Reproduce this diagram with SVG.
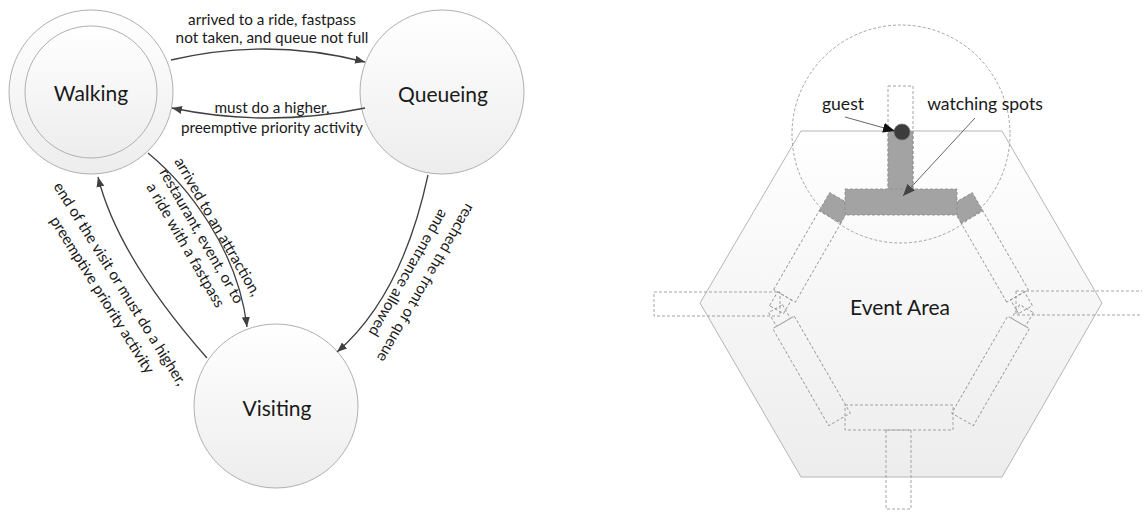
<svg xmlns="http://www.w3.org/2000/svg" width="1142" height="512" viewBox="0 0 1142 512">
<defs>
<linearGradient id="gNode" x1="0" y1="0" x2="0" y2="1">
<stop offset="0" stop-color="#ffffff"/><stop offset="1" stop-color="#ededed"/>
</linearGradient>
<linearGradient id="gHex" x1="0" y1="0" x2="0" y2="1">
<stop offset="0" stop-color="#ffffff"/><stop offset="1" stop-color="#ededed"/>
</linearGradient>
<marker id="arr" markerUnits="userSpaceOnUse" markerWidth="11" markerHeight="9" refX="10" refY="4" orient="auto">
<path d="M0,0 L10,4 L0,8 z" fill="#404040"/>
</marker>
<marker id="arrB" markerUnits="userSpaceOnUse" markerWidth="13" markerHeight="11" refX="12" refY="5" orient="auto">
<path d="M0,0 L12,5 L0,10 z" fill="#111"/>
</marker>
<marker id="arrG" markerUnits="userSpaceOnUse" markerWidth="13" markerHeight="11" refX="12" refY="5" orient="auto">
<path d="M0,0 L12,5 L0,10 z" fill="#444"/>
</marker>
</defs>
<style>
.node{fill:url(#gNode);stroke:#b0b0b0;stroke-width:1}
.ntxt{font-family:Lato,"Liberation Sans",sans-serif;font-size:21px;fill:#1a1a1a;text-anchor:middle;dominant-baseline:central}
.edge{fill:none;stroke:#404040;stroke-width:1.3;marker-end:url(#arr)}
.lbl{font-family:Lato,"Liberation Sans",sans-serif;font-size:15.3px;fill:#1a1a1a;text-anchor:middle}
.dash{fill:none;stroke:#9a9a9a;stroke-width:0.9;stroke-dasharray:3 2}
.spot{fill:#a3a3a3;stroke:#8a8a8a;stroke-width:0.8;stroke-dasharray:3 2}
.lead{fill:none;stroke:#555;stroke-width:0.9}
.ann{font-family:Lato,"Liberation Sans",sans-serif;font-size:17.6px;fill:#1a1a1a;text-anchor:middle}
</style>

<g id="node-walking">
<circle class="node" cx="91" cy="92" r="82"/>
<circle class="node" cx="91" cy="92" r="66"/>
<text class="ntxt" x="91" y="92">Walking</text>
</g>
<g id="node-queueing">
<circle class="node" cx="442" cy="92" r="82"/>
<text class="ntxt" x="443" y="93">Queueing</text>
</g>
<g id="node-visiting">
<circle class="node" cx="276" cy="406" r="82"/>
<text class="ntxt" x="277" y="407">Visiting</text>
</g>

<g id="connectors">
<path class="edge" d="M171,60 Q268,37 365,62"/>
<path class="edge" d="M365,108 Q268,128 172,108"/>
<path class="edge" d="M148,153 C188,186 238,250 247,327"/>
<path class="edge" d="M207,358 Q118,257 98,177"/>
<path class="edge" d="M428,175 Q402,296 337,352"/>
<text class="lbl" x="272" y="25">arrived to a ride, fastpass</text>
<text class="lbl" x="272" y="43">not taken, and queue not full</text>
<text class="lbl" x="272" y="113">must do a higher,</text>
<text class="lbl" x="272" y="133">preemptive priority activity</text>
<g transform="translate(201.5,236) rotate(60)">
<text class="lbl" x="0" y="-13.5">arrived to an attraction,</text>
<text class="lbl" x="0" y="5">restaurant, event, or to</text>
<text class="lbl" x="0" y="23.5">a ride with a fastpass</text>
</g>
<g transform="translate(111,289.5) rotate(58)">
<text class="lbl" x="0" y="-5.5">end of the visit or must do a higher,</text>
<text class="lbl" x="0" y="15.5">preemptive priority activity</text>
</g>
<g transform="translate(417,278) rotate(120)">
<text class="lbl" x="0" y="-5">reached the front of queue</text>
<text class="lbl" x="0" y="15">and entrance allowed</text>
</g>
</g>

<g id="event-area">
<polygon points="801,131 1002,131 1102,303 1002,477 801,477 700,303" fill="url(#gHex)" stroke="#b5b5b5" stroke-width="1"/>
<rect class="dash" x="654" y="292" width="126" height="24"/>
<rect class="dash" x="1016" y="291" width="130" height="24"/>
<rect class="dash" x="886" y="430" width="25" height="79"/>
<rect class="dash" x="888" y="86" width="25" height="103"/>
<rect class="dash" x="845" y="405" width="108" height="25"/>
<g transform="translate(807.5,256) rotate(-60)">
<rect class="dash" x="-46" y="-12.5" width="91" height="25"/>
<rect class="dash" x="-62" y="-8" width="16" height="16"/>
<rect class="spot" x="45" y="-12.5" width="21" height="25"/>
</g>
<g transform="translate(994.5,256) rotate(-120)">
<rect class="dash" x="-46" y="-12.5" width="91" height="25"/>
<rect class="dash" x="-62" y="-8" width="16" height="16"/>
<rect class="spot" x="45" y="-12.5" width="21" height="25"/>
</g>
<g transform="translate(807.5,364) rotate(60)">
<rect class="dash" x="-48" y="-12.5" width="112" height="25"/>
<rect class="dash" x="-64" y="-8" width="16" height="16"/>
</g>
<g transform="translate(994.5,364) rotate(120)">
<rect class="dash" x="-48" y="-12.5" width="112" height="25"/>
<rect class="dash" x="-64" y="-8" width="16" height="16"/>
</g>
<rect class="spot" x="888" y="131" width="25" height="60" stroke="none"/>
<rect class="spot" x="845" y="189" width="112" height="26"/>
<circle cx="901" cy="134" r="109" class="dash"/>
<circle cx="902" cy="132" r="8" fill="#3c3c3c" stroke="#777" stroke-width="0.8"/>
<text class="ntxt" x="900" y="306">Event Area</text>
</g>

<g id="annotations">
<path class="lead" d="M845,117 L895,131" marker-end="url(#arrB)"/>
<path class="lead" d="M975,118 L903,196" stroke="#777" marker-end="url(#arrG)"/>
<text class="ann" x="843" y="110">guest</text>
<text class="ann" x="985" y="110">watching spots</text>
</g>
</svg>
